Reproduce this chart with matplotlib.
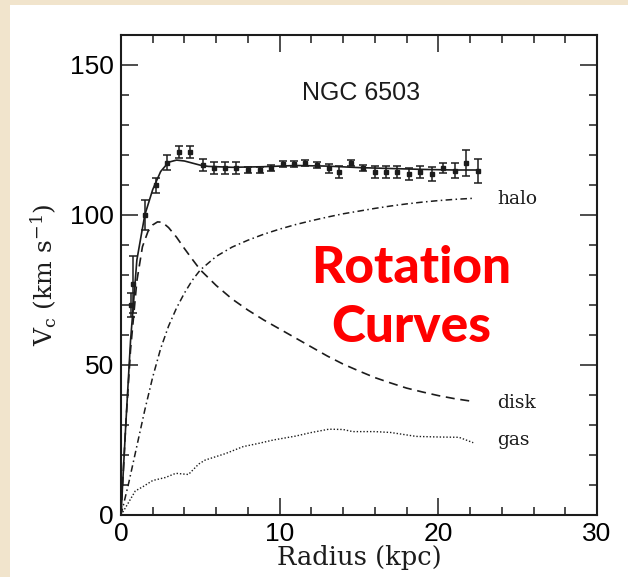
import matplotlib
matplotlib.use("Agg")
import matplotlib.pyplot as plt
from matplotlib.patches import Rectangle
from matplotlib.ticker import MultipleLocator

# Observed rotation velocities of NGC 6503 (kpc, km/s)
r_obs = [0.65, 0.78, 1.50, 2.23, 2.92, 3.66, 4.34, 5.18, 5.88, 6.57, 7.24, 8.02,
         8.74, 9.46, 10.19, 10.89, 11.60, 12.34, 13.08, 13.77, 14.51, 15.24,
         15.98, 16.68, 17.42, 18.15, 18.87, 19.58, 20.30, 21.04, 21.73, 22.47]
v_obs = [70.0, 77.0, 100.0, 110.0, 117.4, 121.1, 120.9, 116.7, 115.8, 115.8,
         115.6, 115.0, 115.0, 115.8, 116.9, 116.9, 117.4, 116.7, 115.6, 114.4,
         117.2, 115.6, 114.4, 114.4, 114.4, 113.7, 114.4, 113.7, 115.8, 114.8,
         117.4, 114.8]
v_err = [4.0, 9.5, 5.0, 2.5, 2.5, 2.0, 2.0, 2.0, 2.0, 2.0, 2.0, 1.0, 1.0, 1.0,
         1.0, 1.0, 1.0, 1.0, 1.5, 2.0, 1.0, 1.0, 2.0, 2.0, 2.0, 2.0, 2.0, 2.3,
         1.7, 2.6, 4.3, 4.0]

# Model fit: total, stellar disk, dark halo, gas
r_total = [0, 0.3, 0.6, 1.0, 1.5, 2.0, 2.5, 3.0, 3.5, 4.0, 4.5, 5.0, 5.5,
           7.0, 9.0, 11.0, 13.0, 15.0, 17.0, 19.0, 21.0, 22.4]
v_total = [0, 30, 58, 85, 100, 108.5, 114.5, 117.6, 118.3, 118.0, 117.3,
           116.6, 116.2, 115.9, 116.1, 116.5, 116.3, 115.8, 115.5, 115.2,
           115.0, 115.0]

r_disk = [0, 0.3, 0.6, 1.0, 1.35, 1.7, 2.0, 2.3, 2.6, 3.0, 3.5, 4.0, 4.5,
          5.0, 6, 7, 8, 9, 10, 11, 12, 13, 14, 15, 16, 17, 18, 19, 20, 21, 22]
v_disk = [0, 30, 55, 78, 89.4, 94.5, 96.7, 97.7, 97.6, 95.8, 92.6, 88.8, 85.2,
          81.7, 76.5, 72, 68.3, 65, 62, 59, 56, 53, 50.3, 48, 45.8, 44, 42.3,
          41, 39.8, 38.8, 38]

r_halo = [0, 0.5, 1, 1.5, 2, 2.5, 3, 3.5, 4, 4.5, 5, 6, 7, 8, 9, 10, 11, 12,
          13, 14, 15, 16, 17, 18, 19, 20, 21, 22.3]
v_halo = [0, 11, 23, 35, 46, 55.5, 63, 69, 74, 78.3, 81.7, 86.2, 89.3, 91.6,
          93.6, 95.3, 96.8, 98.1, 99.3, 100.4, 101.3, 102.2, 103, 103.7,
          104.3, 104.8, 105.2, 105.6]

r_gas = [0, 0.2, 0.9, 1.4, 2.0, 2.8, 3.45, 4.25, 4.9, 5.3, 6.6, 7.7, 8.7, 9.6,
         11.0, 12.0, 13.1, 14.0, 14.6, 16.0, 17.0, 18.6, 20.0, 21.3, 22.2]
v_gas = [0, 1.7, 8, 9.5, 11.5, 12.5, 13.9, 13.5, 17, 18.3, 20.5, 22.8, 23.9,
         25, 26.3, 27.5, 28.6, 28.5, 27.8, 27.8, 27.5, 26.2, 26, 25.9, 24.1]

component_names = ["halo", "disk", "gas"]
component_label_v = [105.3, 37.3, 25.0]

ink = "#1c1c1c"
plt.rcParams["mathtext.fontset"] = "dejavuserif"

fig = plt.figure(figsize=(6.28, 5.77), dpi=100)
fig.patch.set_facecolor("#f1e4cc")
fig.patches.append(Rectangle((10 / 628, 0), 1 - 10 / 628, 1 - 5 / 577,
                             transform=fig.transFigure, facecolor="white",
                             edgecolor="none", zorder=-10))

ax = fig.add_axes([121 / 628, 62 / 577, 476 / 628, 480 / 577])
ax.set_facecolor("white")

ax.plot(r_total, v_total, color=ink, lw=1.2, solid_joinstyle="round")
ax.plot(r_disk, v_disk, color=ink, lw=1.2, dashes=(5.4, 3.4))
ax.plot(r_halo, v_halo, color=ink, lw=1.1, dashes=(4.3, 2.2, 1.0, 2.2))
ax.plot(r_gas, v_gas, color=ink, lw=1.0, dashes=(1.0, 1.4))
ax.errorbar(r_obs, v_obs, yerr=v_err, fmt="s", color=ink, ms=3.4,
            elinewidth=1.1, capsize=2.6, capthick=1.1)

for name, v in zip(component_names, component_label_v):
    ax.text(23.7, v, name, family="DejaVu Serif", fontsize=13.5,
            ha="left", va="center", color=ink)

ax.text(15.1, 140.7, "NGC 6503", family="Liberation Sans", fontsize=18,
        ha="center", va="center", color=ink)

ax.text(18.3, 77.3, "Rotation", family=["Lato", "DejaVu Sans"],
        fontweight="black", fontsize=37, color="#ff0000",
        ha="center", va="baseline")
ax.text(18.3, 57.7, "Curves", family=["Lato", "DejaVu Sans"],
        fontweight="black", fontsize=37, color="#ff0000",
        ha="center", va="baseline")

ax.set_xlim(0, 30)
ax.set_ylim(0, 160)
ax.xaxis.set_major_locator(MultipleLocator(10))
ax.xaxis.set_minor_locator(MultipleLocator(2))
ax.yaxis.set_major_locator(MultipleLocator(50))
ax.yaxis.set_minor_locator(MultipleLocator(10))
ax.tick_params(which="both", direction="in", top=True, right=True,
               color=ink, width=1.1)
ax.tick_params(which="major", length=12, pad=5, labelsize=19)
ax.tick_params(which="minor", length=6)
for lab in ax.get_xticklabels() + ax.get_yticklabels():
    lab.set_family("Liberation Sans")
for sp in ax.spines.values():
    sp.set_linewidth(1.5)
    sp.set_color(ink)

ax.set_xlabel("Radius (kpc)", family="DejaVu Serif", fontsize=18.5, color=ink)
ax.xaxis.set_label_coords(0.5, -0.062)
ax.set_ylabel(r"V$_{\rm c}$ (km s$^{-1}$)", family="DejaVu Serif",
              fontsize=18, color=ink)
ax.yaxis.set_label_coords(-0.13, 0.5)

fig.savefig("out.png", dpi=100, facecolor=fig.get_facecolor())
